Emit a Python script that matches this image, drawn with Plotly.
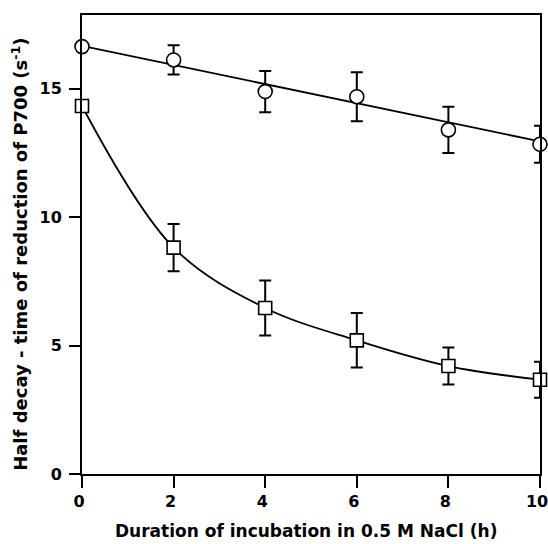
import plotly.graph_objects as go

# Data
hours = [0, 2, 4, 6, 8, 10]

circle_vals = [16.63, 16.11, 14.88, 14.68, 13.39, 12.83]
circle_err = [0, 0.57, 0.80, 0.95, 0.90, 0.72]

square_vals = [14.32, 8.81, 6.46, 5.20, 4.20, 3.67]
square_err = [0, 0.92, 1.07, 1.06, 0.72, 0.70]

# straight-line fit drawn through the circle series (end values)
circle_fit_x = [0, 10]
circle_fit_y = [16.66, 12.94]

x_ticks = [0, 2, 4, 6, 8, 10]
y_ticks = [0, 5, 10, 15]

FONT = "DejaVu Sans"
INK = "black"

fig = go.Figure()

fig.add_trace(go.Scatter(
    x=circle_fit_x, y=circle_fit_y, mode="lines",
    line=dict(color=INK, width=1.8), showlegend=False, cliponaxis=False,
    hoverinfo="skip"))

fig.add_trace(go.Scatter(
    x=hours, y=square_vals, mode="lines",
    line=dict(color=INK, width=1.8, shape="spline", smoothing=1.0),
    showlegend=False, cliponaxis=False, hoverinfo="skip"))

fig.add_trace(go.Scatter(
    x=hours, y=circle_vals, mode="markers",
    marker=dict(symbol="circle", size=14, color="white",
                line=dict(color=INK, width=1.6)),
    error_y=dict(type="data", array=circle_err, visible=True,
                 color=INK, thickness=2, width=6),
    showlegend=False, cliponaxis=False))

fig.add_trace(go.Scatter(
    x=hours, y=square_vals, mode="markers",
    marker=dict(symbol="square", size=13, color="white",
                line=dict(color=INK, width=1.6)),
    error_y=dict(type="data", array=square_err, visible=True,
                 color=INK, thickness=2, width=6),
    showlegend=False, cliponaxis=False))

fig.update_layout(
    width=548, height=544,
    margin=dict(l=82, r=8, t=15, b=70, autoexpand=False),
    paper_bgcolor="white", plot_bgcolor="white",
    showlegend=False,
    xaxis=dict(
        range=[0, 10], tickvals=x_ticks, ticktext=[str(v) for v in x_ticks],
        showgrid=False, zeroline=False,
        showline=True, linecolor=INK, linewidth=2, mirror=True,
        ticks="outside", ticklen=12, tickwidth=2, tickcolor=INK,
        tickfont=dict(family=FONT, size=16, color=INK, weight="bold"),
        ticklabeloverflow="allow",
        ticklabelshift=-3,
        fixedrange=True,
    ),
    yaxis=dict(
        range=[0, 17.86], tickvals=y_ticks, ticktext=[str(v) for v in y_ticks],
        showgrid=False, zeroline=False,
        showline=True, linecolor=INK, linewidth=2, mirror=True,
        ticks="outside", ticklen=11, tickwidth=2, tickcolor=INK,
        tickfont=dict(family=FONT, size=16, color=INK, weight="bold"),
        ticklabelstandoff=4,
        ticklabeloverflow="allow",
        fixedrange=True,
    ),
    annotations=[
        dict(text="Duration of incubation in 0.5 M NaCl (h)",
             xref="paper", yref="paper", x=0.49, y=-0.125,
             xanchor="center", yanchor="middle", showarrow=False,
             font=dict(family=FONT, size=17, color=INK, weight="bold")),
        dict(text="Half decay - time of reduction of P700 (s<sup>-1</sup>)",
             xref="paper", yref="paper", x=-0.137, y=0.478,
             xanchor="center", yanchor="middle", showarrow=False,
             textangle=-90,
             font=dict(family=FONT, size=18, color=INK, weight="bold")),
    ],
)

fig.write_html(
    "out.html",
    config={"displayModeBar": False, "staticPlot": True},
    post_script=(
        "document.documentElement.style.margin='0';"
        "document.body.style.margin='0';"
        "document.documentElement.style.overflow='hidden';"
        "document.body.style.overflow='hidden';"
    ),
)
